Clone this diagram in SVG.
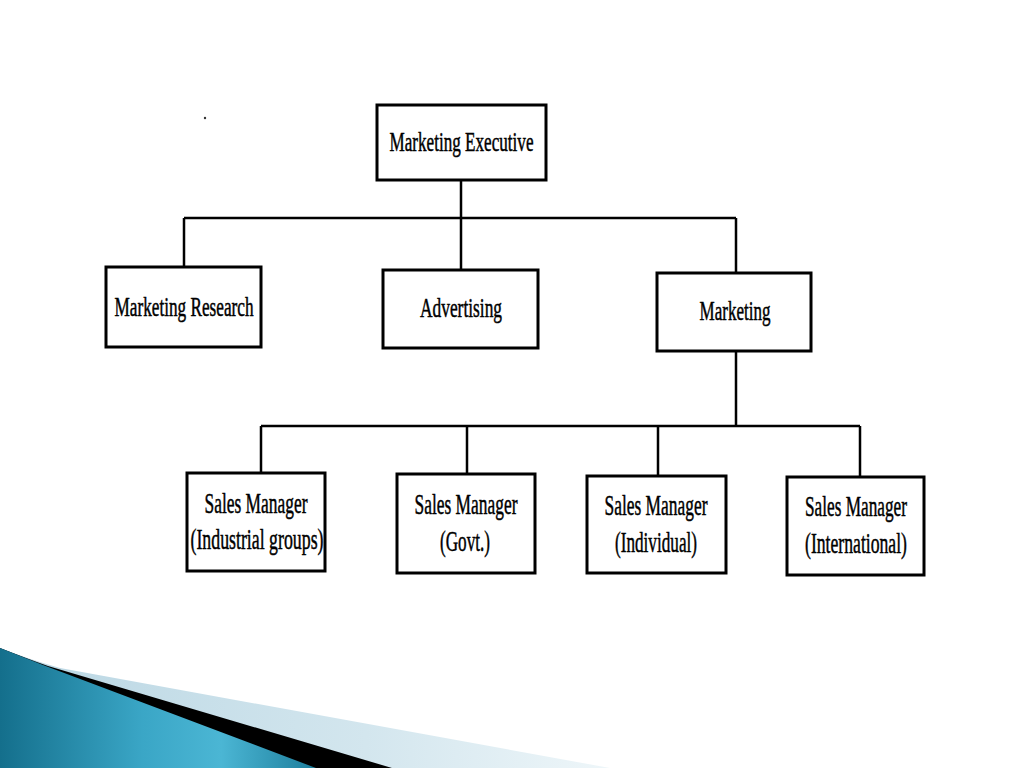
<svg xmlns="http://www.w3.org/2000/svg" width="1024" height="768" viewBox="0 0 1024 768">
<defs>
<linearGradient id="teal" x1="0" y1="0" x2="1" y2="0">
<stop offset="0" stop-color="#146f8c"/>
<stop offset="0.45" stop-color="#3aa6c6"/>
<stop offset="0.7" stop-color="#4bb6d4"/>
<stop offset="1" stop-color="#1d7e9c"/>
</linearGradient>
<linearGradient id="pale" x1="0" y1="0" x2="1" y2="0">
<stop offset="0" stop-color="#b9d6e3"/>
<stop offset="0.6" stop-color="#d3e6ee"/>
<stop offset="1" stop-color="#eef6f9"/>
</linearGradient>
<style>
.box{fill:#fff;stroke:#000;stroke-width:3}
.ln{stroke:#000;stroke-width:2.5;fill:none}
.t{font-family:"Liberation Serif",serif;fill:#000;stroke:#000;stroke-width:0.5;text-anchor:middle}
.t1{font-size:28px}
.t2{font-size:30px}
</style>
</defs>
<rect width="1024" height="768" fill="#fff"/>
<g id="decoration">
<path d="M0,648 Q28,659 60,668 L610,768 L0,768 Z" fill="url(#pale)"/>
<path d="M0,648 Q28,659 48,666 L392,768 L0,768 Z" fill="#000"/>
<path d="M0,648 Q28,659 43,665 L316,768 L0,768 Z" fill="url(#teal)"/>
</g>
<circle cx="205" cy="118" r="1.2" fill="#333"/>
<g id="connectors">
<path class="ln" d="M461,180 V270 M184,218 H736 M184,218 V267 M736,218 V273"/>
<path class="ln" d="M736,351 V426 M261,426 H860 M261,426 V473 M467,426 V474 M658,426 V476 M860,426 V477"/>
</g>
<g id="marketing-executive">
<rect class="box" x="377" y="105" width="169" height="75"/>
<text class="t t1" x="461.5" y="151" textLength="144" lengthAdjust="spacingAndGlyphs">Marketing Executive</text>
</g>
<g id="marketing-research">
<rect class="box" x="106" y="267" width="155" height="80"/>
<text class="t t1" x="184" y="316" textLength="139" lengthAdjust="spacingAndGlyphs">Marketing Research</text>
</g>
<g id="advertising">
<rect class="box" x="383" y="270" width="155" height="78"/>
<text class="t t1" x="461" y="317" textLength="82" lengthAdjust="spacingAndGlyphs">Advertising</text>
</g>
<g id="marketing">
<rect class="box" x="657" y="273" width="154" height="78"/>
<text class="t t1" x="735" y="320" textLength="71" lengthAdjust="spacingAndGlyphs">Marketing</text>
</g>
<g id="sm-industrial">
<rect class="box" x="187" y="473" width="138" height="98"/>
<text class="t t2" x="256" y="513" textLength="103" lengthAdjust="spacingAndGlyphs">Sales Manager</text>
<text class="t t2" x="257" y="549" textLength="133" lengthAdjust="spacingAndGlyphs">(Industrial groups)</text>
</g>
<g id="sm-govt">
<rect class="box" x="397" y="474" width="138" height="99"/>
<text class="t t2" x="466" y="514" textLength="103" lengthAdjust="spacingAndGlyphs">Sales Manager</text>
<text class="t t2" x="465" y="551" textLength="50" lengthAdjust="spacingAndGlyphs">(Govt.)</text>
</g>
<g id="sm-individual">
<rect class="box" x="587" y="476" width="139" height="97"/>
<text class="t t2" x="656" y="515" textLength="103" lengthAdjust="spacingAndGlyphs">Sales Manager</text>
<text class="t t2" x="656" y="552" textLength="82" lengthAdjust="spacingAndGlyphs">(Individual)</text>
</g>
<g id="sm-international">
<rect class="box" x="787" y="477" width="137" height="98"/>
<text class="t t2" x="856" y="516" textLength="102" lengthAdjust="spacingAndGlyphs">Sales Manager</text>
<text class="t t2" x="856" y="553" textLength="102" lengthAdjust="spacingAndGlyphs">(International)</text>
</g>
</svg>
